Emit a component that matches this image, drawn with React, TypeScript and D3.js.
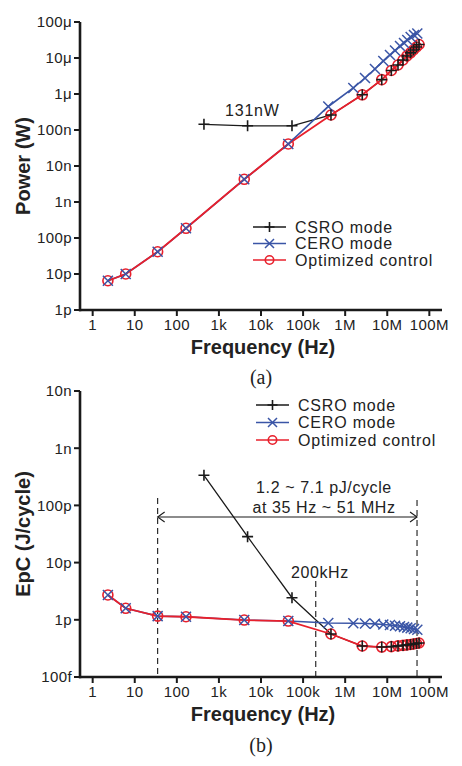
import React from "react";
import * as d3 from "d3";

// ---------- data ----------
const xTickValues = [1, 10, 100, 1e3, 1e4, 1e5, 1e6, 1e7, 1e8];
const xTickLabels = ["1", "10", "100", "1k", "10k", "100k", "1M", "10M", "100M"];
const powerTickValues = [1e-12, 1e-11, 1e-10, 1e-9, 1e-8, 1e-7, 1e-6, 1e-5, 1e-4];
const powerTickLabels = ["1p", "10p", "100p", "1n", "10n", "100n", "1μ", "10μ", "100μ"];
const epcTickValues = [1e-13, 1e-12, 1e-11, 1e-10, 1e-9, 1e-8];
const epcTickLabels = ["100f", "1p", "10p", "100p", "1n", "10n"];
const legendLabels = ["CSRO mode", "CERO mode", "Optimized control"];

// Optimized control
const freqOpt = [2.3, 6.1, 35, 165, 4.0e3, 44.5e3, 460e3, 2.55e6, 7.4e6, 12.5e6, 18e6, 23.7e6, 29.4e6, 35.7e6, 42e6, 49.6e6, 57e6];
const powerOpt = [6.5e-12, 10e-12, 41.5e-12, 186e-12, 4.27e-9, 41e-9, 261e-9, 0.95e-6, 2.5e-6, 4.5e-6, 6.4e-6, 8.8e-6, 11.4e-6, 13.9e-6, 16.7e-6, 20.2e-6, 23.7e-6];
const epcOpt = [2.72e-12, 1.59e-12, 1.16e-12, 1.13e-12, 0.99e-12, 0.95e-12, 0.565e-12, 0.348e-12, 0.334e-12, 0.34e-12, 0.35e-12, 0.357e-12, 0.364e-12, 0.371e-12, 0.378e-12, 0.385e-12, 0.393e-12];

// CERO mode
const freqCero = [2.3, 6.1, 35, 165, 4.0e3, 44.5e3, 397e3, 1.56e6, 2.96e6, 5.1e6, 8.05e6, 11.6e6, 15.3e6, 20.1e6, 25e6, 29.9e6, 36e6, 43.2e6, 51.8e6];
const powerCero = [6.5e-12, 10e-12, 41.5e-12, 186e-12, 4.27e-9, 41e-9, 0.45e-6, 1.47e-6, 2.78e-6, 4.95e-6, 8.3e-6, 12.1e-6, 16.1e-6, 21.5e-6, 26.1e-6, 31.6e-6, 38.3e-6, 43.5e-6, 47.9e-6];
const epcCero = [2.72e-12, 1.59e-12, 1.16e-12, 1.13e-12, 0.99e-12, 0.95e-12, 0.88e-12, 0.87e-12, 0.86e-12, 0.85e-12, 0.83e-12, 0.81e-12, 0.79e-12, 0.77e-12, 0.75e-12, 0.73e-12, 0.71e-12, 0.69e-12, 0.67e-12];

// CSRO mode
const freqCsro = [441, 4.8e3, 54.5e3, 460e3, 2.55e6, 7.4e6, 12.5e6, 18e6, 23.7e6, 29.4e6, 35.7e6, 42e6, 49.6e6, 57e6];
const powerCsro = [144e-9, 131e-9, 131e-9, 261e-9, 0.95e-6, 2.5e-6, 4.5e-6, 6.4e-6, 8.8e-6, 11.4e-6, 13.9e-6, 16.7e-6, 20.2e-6, 23.7e-6];
const epcCsro = [336e-12, 28.4e-12, 2.43e-12, 0.565e-12, 0.348e-12, 0.334e-12, 0.34e-12, 0.35e-12, 0.357e-12, 0.364e-12, 0.371e-12, 0.378e-12, 0.385e-12, 0.393e-12];

// annotation frequencies
const rangeLowFreq = 35;
const rangeHighFreq = 51e6;
const markFreq = 200e3;

// ---------- styles ----------
const FONT = "'Liberation Sans', Arial, Helvetica, sans-serif";
const RED = "#e8202c";
const BLUE = "#3a55a6";
const BLACK = "#1a1a1a";
const AXIS = "#1a1a1a";

const xScale = d3.scaleLog().domain([0.5, 2e8]).range([80, 442]);
const yPower = d3.scaleLog().domain([1e-12, 1e-4]).range([310, 22]);
const yEpc = d3.scaleLog().domain([1e-13, 1e-8]).range([677, 391]);

type Pt = [number, number];
const zip = (a: number[], b: number[]): Pt[] => a.map((v, i) => [v, b[i]]);

function Plus({ x, y, s = 5.5, c = BLACK }: any) {
  return <path d={`M${x - s},${y}H${x + s}M${x},${y - s}V${y + s}`} stroke={c} strokeWidth={1.6} fill="none" />;
}
function Cross({ x, y, s = 5, c = BLUE }: any) {
  return <path d={`M${x - s},${y - s}L${x + s},${y + s}M${x - s},${y + s}L${x + s},${y - s}`} stroke={c} strokeWidth={1.5} fill="none" />;
}
function Circ({ x, y, r = 5, c = RED }: any) {
  return <circle cx={x} cy={y} r={r} stroke={c} strokeWidth={1.6} fill="none" />;
}

function Panel({ yScale, yTicks, yLabels, csro, cero, opt, yTitle, legend }: any) {
  const line = d3.line<Pt>().x((d) => xScale(d[0])).y((d) => yScale(d[1]));
  const [yb, yt] = yScale.range();
  const [x0, x1] = xScale.range();
  return (
    <g>
      {/* series lines */}
      <path d={line(csro) || ""} stroke={BLACK} strokeWidth={1.3} fill="none" />
      <path d={line(cero) || ""} stroke={BLUE} strokeWidth={1.6} fill="none" />
      <path d={line(opt) || ""} stroke={RED} strokeWidth={1.8} fill="none" />
      {/* markers */}
      {opt.map((d: Pt, i: number) => <Circ key={"o" + i} x={xScale(d[0])} y={yScale(d[1])} />)}
      {cero.map((d: Pt, i: number) => <Cross key={"c" + i} x={xScale(d[0])} y={yScale(d[1])} />)}
      {csro.map((d: Pt, i: number) => <Plus key={"s" + i} x={xScale(d[0])} y={yScale(d[1])} />)}
      {/* axes */}
      <line x1={x0 - 1} x2={x1} y1={yb} y2={yb} stroke={AXIS} strokeWidth={2.6} />
      <line x1={x0} x2={x0} y1={yt} y2={yb + 1.3} stroke={AXIS} strokeWidth={2.6} />
      {xTickValues.map((v, i) => (
        <g key={"xt" + i}>
          <line x1={xScale(v)} x2={xScale(v)} y1={yb} y2={yb + 6} stroke={AXIS} strokeWidth={2} />
          <text x={xScale(v)} y={yb + 19.5} textAnchor="middle" fontSize={15} fontFamily={FONT} fill="#222" letterSpacing={0.4}>
            {xTickLabels[i]}
          </text>
        </g>
      ))}
      {yTicks.map((v: number, i: number) => (
        <g key={"yt" + i}>
          <line x1={x0 - 6} x2={x0} y1={yScale(v)} y2={yScale(v)} stroke={AXIS} strokeWidth={2} />
          <text x={x0 - 8} y={yScale(v)} dy="0.36em" textAnchor="end" fontSize={15} fontFamily={FONT} fill="#222" letterSpacing={0.4}>
            {yLabels[i]}
          </text>
        </g>
      ))}
      <text transform={`translate(30,${(yb + yt) / 2}) rotate(-90)`} textAnchor="middle" fontSize={20} fontWeight="bold" fontFamily={FONT} fill="#222">
        {yTitle}
      </text>
      <text x={263} y={yb + 43.5} textAnchor="middle" fontSize={20} fontWeight="bold" fontFamily={FONT} fill="#222">
        Frequency (Hz)
      </text>
      {/* legend */}
      {legendLabels.map((lab, i) => {
        const ly = legend.y + i * legend.dy;
        const lx = legend.x;
        const cx = lx + 16.5;
        const c = i === 0 ? BLACK : i === 1 ? BLUE : RED;
        return (
          <g key={"lg" + i}>
            <line x1={lx} x2={lx + 33} y1={ly} y2={ly} stroke={c} strokeWidth={1.6} />
            {i === 0 && <Plus x={cx} y={ly} s={5} />}
            {i === 1 && <Cross x={cx} y={ly} s={4.5} />}
            {i === 2 && <Circ x={cx} y={ly} r={4.2} />}
            <text x={lx + 42} y={ly} dy="0.36em" fontSize={16} fontFamily={FONT} fill="#222" letterSpacing={0.8}>
              {lab}
            </text>
          </g>
        );
      })}
    </g>
  );
}

export default function App() {
  const xl = xScale(rangeLowFreq);
  const xh = xScale(rangeHighFreq);
  const xm = xScale(markFreq);
  const yAx = yEpc.range()[0];
  const ay = 517;
  return (
    <svg width={462} height={766} style={{ position: "absolute", left: 0, top: 0, background: "#fff" }}>
      <rect width={462} height={766} fill="#fff" />
      <Panel
        yScale={yPower}
        yTicks={powerTickValues}
        yLabels={powerTickLabels}
        csro={zip(freqCsro, powerCsro)}
        cero={zip(freqCero, powerCero)}
        opt={zip(freqOpt, powerOpt)}
        yTitle="Power (W)"
        legend={{ x: 253, y: 227, dy: 16.5 }}
      />
      <text x={225} y={116} fontSize={16} fontFamily={FONT} fill="#222" letterSpacing={0.8}>131nW</text>
      <text x={261} y={384} textAnchor="middle" fontSize={20} fontFamily="'Liberation Serif', 'Times New Roman', serif" fill="#222">(a)</text>

      {/* bottom annotations (drawn under the series) */}
      <line x1={xl} x2={xl} y1={498} y2={yAx} stroke={BLACK} strokeWidth={1.1} strokeDasharray="6,4" />
      <line x1={xh} x2={xh} y1={500} y2={yAx} stroke={BLACK} strokeWidth={1.1} strokeDasharray="6,4" />
      <line x1={xm} x2={xm} y1={581} y2={yAx} stroke={BLACK} strokeWidth={1.1} strokeDasharray="6,4" />
      <line x1={xl} x2={xh} y1={ay} y2={ay} stroke={BLACK} strokeWidth={1.1} />
      <path d={`M${xl + 7},${ay - 5}L${xl},${ay}L${xl + 7},${ay + 5}`} stroke={BLACK} strokeWidth={1.1} fill="none" />
      <path d={`M${xh - 7},${ay - 5}L${xh},${ay}L${xh - 7},${ay + 5}`} stroke={BLACK} strokeWidth={1.1} fill="none" />
      <Panel
        yScale={yEpc}
        yTicks={epcTickValues}
        yLabels={epcTickLabels}
        csro={zip(freqCsro, epcCsro)}
        cero={zip(freqCero, epcCero)}
        opt={zip(freqOpt, epcOpt)}
        yTitle="EpC (J/cycle)"
        legend={{ x: 256, y: 405, dy: 17.5 }}
      />
      <text x={324} y={493} textAnchor="middle" fontSize={16} fontFamily={FONT} fill="#222" letterSpacing={0.6}>1.2 ~ 7.1 pJ/cycle</text>
      <text x={324} y={513} textAnchor="middle" fontSize={16} fontFamily={FONT} fill="#222" letterSpacing={0.6}>at 35 Hz ~ 51 MHz</text>
      <text x={291} y={578} fontSize={16} fontFamily={FONT} fill="#222" letterSpacing={0.6}>200kHz</text>
      <text x={261} y={752} textAnchor="middle" fontSize={20} fontFamily="'Liberation Serif', 'Times New Roman', serif" fill="#222">(b)</text>
    </svg>
  );
}
